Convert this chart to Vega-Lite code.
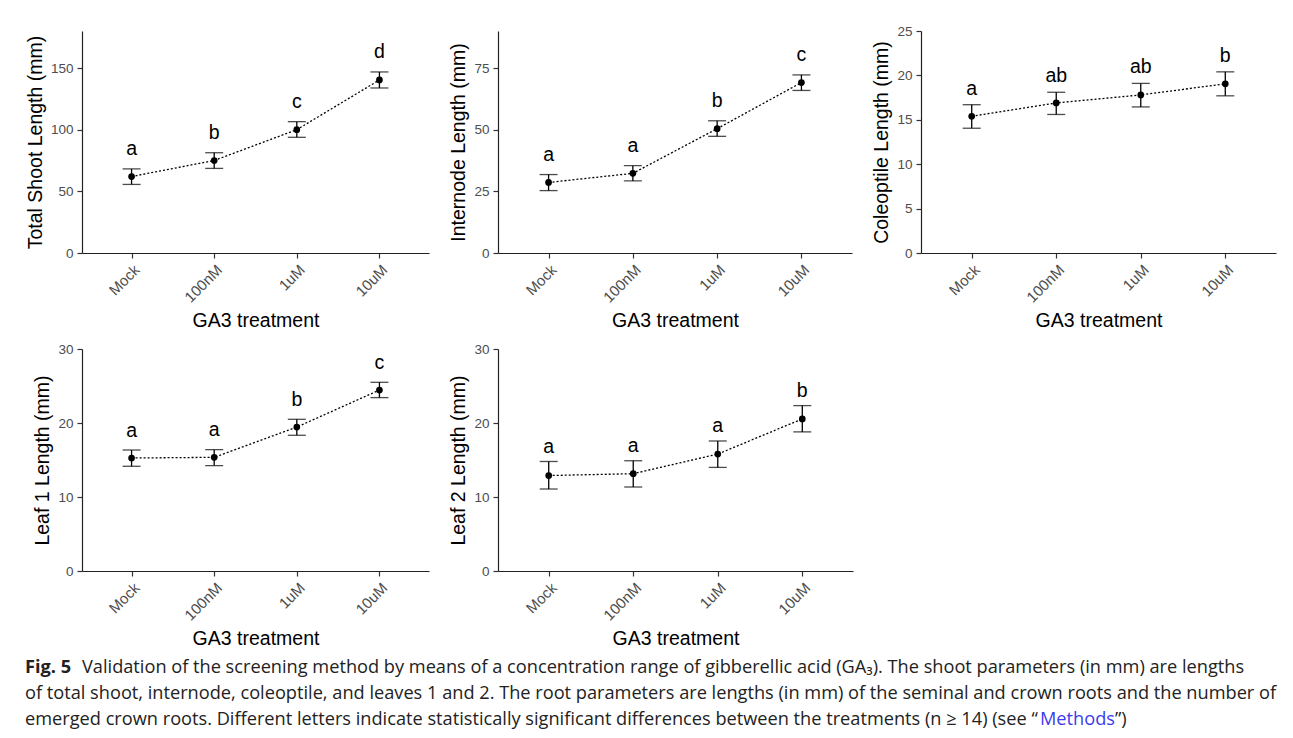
{
  "$schema": "https://vega.github.io/schema/vega-lite/v6.json",
  "background": "white",
  "padding": {"left": 25, "top": 24, "right": 5, "bottom": 0},
  "datasets": {
    "shoot": [
      {"trt": "Mock", "mean": 62.0, "lo": 55.6, "hi": 68.2, "letter": "a"},
      {"trt": "100nM", "mean": 75.0, "lo": 68.6, "hi": 81.3, "letter": "b"},
      {"trt": "1uM", "mean": 100.0, "lo": 93.8, "hi": 106.5, "letter": "c"},
      {"trt": "10uM", "mean": 140.3, "lo": 133.8, "hi": 146.8, "letter": "d"}
    ],
    "internode": [
      {"trt": "Mock", "mean": 28.6, "lo": 25.3, "hi": 31.8, "letter": "a"},
      {"trt": "100nM", "mean": 32.3, "lo": 29.2, "hi": 35.4, "letter": "a"},
      {"trt": "1uM", "mean": 50.4, "lo": 47.3, "hi": 53.6, "letter": "b"},
      {"trt": "10uM", "mean": 69.1, "lo": 65.9, "hi": 72.2, "letter": "c"}
    ],
    "coleoptile": [
      {"trt": "Mock", "mean": 15.4, "lo": 14.05, "hi": 16.7, "letter": "a"},
      {"trt": "100nM", "mean": 16.9, "lo": 15.6, "hi": 18.1, "letter": "ab"},
      {"trt": "1uM", "mean": 17.8, "lo": 16.45, "hi": 19.1, "letter": "ab"},
      {"trt": "10uM", "mean": 19.05, "lo": 17.7, "hi": 20.4, "letter": "b"}
    ],
    "leaf1": [
      {"trt": "Mock", "mean": 15.27, "lo": 14.15, "hi": 16.35, "letter": "a"},
      {"trt": "100nM", "mean": 15.36, "lo": 14.24, "hi": 16.4, "letter": "a"},
      {"trt": "1uM", "mean": 19.45, "lo": 18.34, "hi": 20.5, "letter": "b"},
      {"trt": "10uM", "mean": 24.45, "lo": 23.43, "hi": 25.5, "letter": "c"}
    ],
    "leaf2": [
      {"trt": "Mock", "mean": 12.9, "lo": 11.08, "hi": 14.8, "letter": "a"},
      {"trt": "100nM", "mean": 13.15, "lo": 11.35, "hi": 14.9, "letter": "a"},
      {"trt": "1uM", "mean": 15.8, "lo": 14.0, "hi": 17.57, "letter": "a"},
      {"trt": "10uM", "mean": 20.55, "lo": 18.8, "hi": 22.35, "letter": "b"}
    ],
    "caption": [
      {"line": 1, "part": "bold", "text": "Fig. 5"},
      {"line": 1, "part": "main", "text": "Validation of the screening method by means of a concentration range of gibberellic acid (GA₃). The shoot parameters (in mm) are lengths"},
      {"line": 2, "part": "plain", "text": "of total shoot, internode, coleoptile, and leaves 1 and 2. The root parameters are lengths (in mm) of the seminal and crown roots and the number of"},
      {"line": 3, "part": "plain", "text": "emerged crown roots. Different letters indicate statistically significant differences between the treatments (n ≥ 14) (see “"},
      {"line": 3, "part": "link", "text": "Methods"},
      {"line": 3, "part": "end", "text": "”)"}
    ]
  },
  "vconcat": [
    {
      "spacing": 12,
      "vconcat": [
        {
          "spacing": 19,
          "hconcat": [
            {
              "width": 347, "height": 222,
              "data": {"name": "shoot"},
              "encoding": {"x": {"field": "trt", "type": "ordinal", "sort": ["Mock", "100nM", "1uM", "10uM"], "scale": {"type": "point", "padding": 0.6}, "title": "GA3 treatment"}},
              "layer": [
                {"mark": {"type": "line", "color": "black", "strokeWidth": 1.3, "strokeDash": [2, 2]}, "encoding": {"y": {"field": "mean", "type": "quantitative", "title": "Total Shoot Length (mm)", "scale": {"domain": [0, 180], "nice": false}, "axis": {"values": [0, 50, 100, 150]}}}},
                {"mark": {"type": "rule", "color": "black", "strokeWidth": 1.3}, "encoding": {"y": {"field": "lo", "type": "quantitative", "title": "Total Shoot Length (mm)"}, "y2": {"field": "hi"}}},
                {"mark": {"type": "tick", "color": "black", "thickness": 1.3, "size": 18}, "encoding": {"y": {"field": "lo", "type": "quantitative", "title": "Total Shoot Length (mm)"}}},
                {"mark": {"type": "tick", "color": "black", "thickness": 1.3, "size": 18}, "encoding": {"y": {"field": "hi", "type": "quantitative", "title": "Total Shoot Length (mm)"}}},
                {"mark": {"type": "point", "filled": true, "color": "black", "opacity": 1, "size": 45}, "encoding": {"y": {"field": "mean", "type": "quantitative", "title": "Total Shoot Length (mm)"}}},
                {"mark": {"type": "text", "fontSize": 19.5, "color": "black", "baseline": "alphabetic", "dy": -14}, "encoding": {"y": {"field": "hi", "type": "quantitative", "title": "Total Shoot Length (mm)"}, "text": {"field": "letter"}}}
              ]
            },
            {
              "width": 354, "height": 222,
              "data": {"name": "internode"},
              "encoding": {"x": {"field": "trt", "type": "ordinal", "sort": ["Mock", "100nM", "1uM", "10uM"], "scale": {"type": "point", "padding": 0.6}, "title": "GA3 treatment"}},
              "layer": [
                {"mark": {"type": "line", "color": "black", "strokeWidth": 1.3, "strokeDash": [2, 2]}, "encoding": {"y": {"field": "mean", "type": "quantitative", "title": "Internode Length (mm)", "scale": {"domain": [0, 90], "nice": false}, "axis": {"values": [0, 25, 50, 75]}}}},
                {"mark": {"type": "rule", "color": "black", "strokeWidth": 1.3}, "encoding": {"y": {"field": "lo", "type": "quantitative", "title": "Internode Length (mm)"}, "y2": {"field": "hi"}}},
                {"mark": {"type": "tick", "color": "black", "thickness": 1.3, "size": 18}, "encoding": {"y": {"field": "lo", "type": "quantitative", "title": "Internode Length (mm)"}}},
                {"mark": {"type": "tick", "color": "black", "thickness": 1.3, "size": 18}, "encoding": {"y": {"field": "hi", "type": "quantitative", "title": "Internode Length (mm)"}}},
                {"mark": {"type": "point", "filled": true, "color": "black", "opacity": 1, "size": 45}, "encoding": {"y": {"field": "mean", "type": "quantitative", "title": "Internode Length (mm)"}}},
                {"mark": {"type": "text", "fontSize": 19.5, "color": "black", "baseline": "alphabetic", "dy": -14}, "encoding": {"y": {"field": "hi", "type": "quantitative", "title": "Internode Length (mm)"}, "text": {"field": "letter"}}}
              ]
            },
            {
              "width": 355, "height": 222,
              "data": {"name": "coleoptile"},
              "encoding": {"x": {"field": "trt", "type": "ordinal", "sort": ["Mock", "100nM", "1uM", "10uM"], "scale": {"type": "point", "padding": 0.6}, "title": "GA3 treatment"}},
              "layer": [
                {"mark": {"type": "line", "color": "black", "strokeWidth": 1.3, "strokeDash": [2, 2]}, "encoding": {"y": {"field": "mean", "type": "quantitative", "title": "Coleoptile Length (mm)", "scale": {"domain": [0, 25], "nice": false}, "axis": {"values": [0, 5, 10, 15, 20, 25]}}}},
                {"mark": {"type": "rule", "color": "black", "strokeWidth": 1.3}, "encoding": {"y": {"field": "lo", "type": "quantitative", "title": "Coleoptile Length (mm)"}, "y2": {"field": "hi"}}},
                {"mark": {"type": "tick", "color": "black", "thickness": 1.3, "size": 18}, "encoding": {"y": {"field": "lo", "type": "quantitative", "title": "Coleoptile Length (mm)"}}},
                {"mark": {"type": "tick", "color": "black", "thickness": 1.3, "size": 18}, "encoding": {"y": {"field": "hi", "type": "quantitative", "title": "Coleoptile Length (mm)"}}},
                {"mark": {"type": "point", "filled": true, "color": "black", "opacity": 1, "size": 45}, "encoding": {"y": {"field": "mean", "type": "quantitative", "title": "Coleoptile Length (mm)"}}},
                {"mark": {"type": "text", "fontSize": 19.5, "color": "black", "baseline": "alphabetic", "dy": -10}, "encoding": {"y": {"field": "hi", "type": "quantitative", "title": "Coleoptile Length (mm)"}, "text": {"field": "letter"}}}
              ]
            }
          ]
        },
        {
          "spacing": 19,
          "hconcat": [
            {
              "width": 347, "height": 222,
              "data": {"name": "leaf1"},
              "encoding": {"x": {"field": "trt", "type": "ordinal", "sort": ["Mock", "100nM", "1uM", "10uM"], "scale": {"type": "point", "padding": 0.6}, "title": "GA3 treatment"}},
              "layer": [
                {"mark": {"type": "line", "color": "black", "strokeWidth": 1.3, "strokeDash": [2, 2]}, "encoding": {"y": {"field": "mean", "type": "quantitative", "title": "Leaf 1 Length (mm)", "scale": {"domain": [0, 30], "nice": false}, "axis": {"values": [0, 10, 20, 30]}}}},
                {"mark": {"type": "rule", "color": "black", "strokeWidth": 1.3}, "encoding": {"y": {"field": "lo", "type": "quantitative", "title": "Leaf 1 Length (mm)"}, "y2": {"field": "hi"}}},
                {"mark": {"type": "tick", "color": "black", "thickness": 1.3, "size": 18}, "encoding": {"y": {"field": "lo", "type": "quantitative", "title": "Leaf 1 Length (mm)"}}},
                {"mark": {"type": "tick", "color": "black", "thickness": 1.3, "size": 18}, "encoding": {"y": {"field": "hi", "type": "quantitative", "title": "Leaf 1 Length (mm)"}}},
                {"mark": {"type": "point", "filled": true, "color": "black", "opacity": 1, "size": 45}, "encoding": {"y": {"field": "mean", "type": "quantitative", "title": "Leaf 1 Length (mm)"}}},
                {"mark": {"type": "text", "fontSize": 19.5, "color": "black", "baseline": "alphabetic", "dy": -13.5}, "encoding": {"y": {"field": "hi", "type": "quantitative", "title": "Leaf 1 Length (mm)"}, "text": {"field": "letter"}}}
              ]
            },
            {
              "width": 355, "height": 222,
              "data": {"name": "leaf2"},
              "encoding": {"x": {"field": "trt", "type": "ordinal", "sort": ["Mock", "100nM", "1uM", "10uM"], "scale": {"type": "point", "padding": 0.6}, "title": "GA3 treatment"}},
              "layer": [
                {"mark": {"type": "line", "color": "black", "strokeWidth": 1.3, "strokeDash": [2, 2]}, "encoding": {"y": {"field": "mean", "type": "quantitative", "title": "Leaf 2 Length (mm)", "scale": {"domain": [0, 30], "nice": false}, "axis": {"values": [0, 10, 20, 30]}}}},
                {"mark": {"type": "rule", "color": "black", "strokeWidth": 1.3}, "encoding": {"y": {"field": "lo", "type": "quantitative", "title": "Leaf 2 Length (mm)"}, "y2": {"field": "hi"}}},
                {"mark": {"type": "tick", "color": "black", "thickness": 1.3, "size": 18}, "encoding": {"y": {"field": "lo", "type": "quantitative", "title": "Leaf 2 Length (mm)"}}},
                {"mark": {"type": "tick", "color": "black", "thickness": 1.3, "size": 18}, "encoding": {"y": {"field": "hi", "type": "quantitative", "title": "Leaf 2 Length (mm)"}}},
                {"mark": {"type": "point", "filled": true, "color": "black", "opacity": 1, "size": 45}, "encoding": {"y": {"field": "mean", "type": "quantitative", "title": "Leaf 2 Length (mm)"}}},
                {"mark": {"type": "text", "fontSize": 19.5, "color": "black", "baseline": "alphabetic", "dy": -8.5}, "encoding": {"y": {"field": "hi", "type": "quantitative", "title": "Leaf 2 Length (mm)"}, "text": {"field": "letter"}}}
              ]
            }
          ]
        }
      ]
    },
    {
      "width": 1200, "height": 78,
      "data": {"name": "caption"},
      "encoding": {
        "y": {"field": "line", "type": "ordinal", "axis": null, "scale": {"type": "point", "padding": 0.5}},
        "x": {"value": -57},
        "text": {"field": "text"}
      },
      "layer": [
        {"transform": [{"filter": "datum.part === 'bold'"}], "mark": {"type": "text", "align": "left", "baseline": "middle", "font": "Open Sans", "fontWeight": "bold", "fontSize": 18.2, "color": "#222"}},
        {"transform": [{"filter": "datum.part === 'main'"}], "mark": {"type": "text", "align": "left", "baseline": "middle", "font": "Open Sans", "fontSize": 18.2, "color": "#222", "dx": 57}},
        {"transform": [{"filter": "datum.part === 'plain'"}], "mark": {"type": "text", "align": "left", "baseline": "middle", "font": "Open Sans", "fontSize": 18.2, "color": "#222"}},
        {"transform": [{"filter": "datum.part === 'link'"}], "mark": {"type": "text", "align": "left", "baseline": "middle", "font": "Open Sans", "fontSize": 18.2, "color": "#3b3bf0", "dx": 1015}},
        {"transform": [{"filter": "datum.part === 'end'"}], "mark": {"type": "text", "align": "left", "baseline": "middle", "font": "Open Sans", "fontSize": 18.2, "color": "#222", "dx": 1090}}
      ]
    }
  ],
  "spacing": 7,
  "config": {
    "font": "Liberation Sans",
    "view": {"stroke": null},
    "axis": {
      "grid": false,
      "domainColor": "#222",
      "domainWidth": 1.2,
      "tickColor": "#333",
      "tickWidth": 1.2,
      "tickSize": 5,
      "labelColor": "#4d4d4d",
      "labelFontSize": 13.5,
      "labelPadding": 4,
      "titleFontSize": 19.5,
      "titleFontWeight": "normal",
      "titleColor": "black"
    },
    "axisX": {"labelAngle": -45, "labelAlign": "right", "labelBaseline": "top", "labelFontSize": 15, "titlePadding": 6},
    "axisY": {"titlePadding": 5}
  }
}
